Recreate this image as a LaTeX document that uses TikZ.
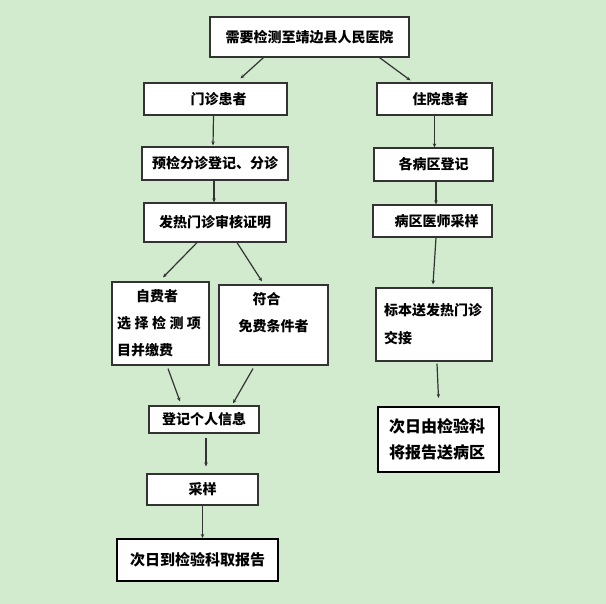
\documentclass[tikz,border=0pt]{standalone}
\usepackage{fontspec}
\setmainfont{Noto Sans CJK SC}
\usetikzlibrary{arrows.meta}
\definecolor{bgreen}{HTML}{D2EBCF}
\definecolor{lgray}{HTML}{333333}
\newcommand{\gapch}{\hspace{3.5pt}}
\begin{document}
\begin{tikzpicture}[x=1pt, y=-1pt,
    box/.style = {draw=lgray, line width=1.2pt, fill=white, inner sep=0pt, font=\fontsize{14}{27}\selectfont\bfseries},
    thickbox/.style = {box, draw=black, line width=2pt},
    arr/.style = {draw=lgray, line width=1.2pt, -{Stealth[length=4pt, width=3.5pt]}}]
    \fill[bgreen] (0,0) rectangle (606,604);
    \useasboundingbox (0,0) rectangle (606,604);
    \node[box, minimum width=199pt, minimum height=40pt] (top) at (309.5, 37) {需要检测至靖边县人民医院}; % top
    \node[box, minimum width=143pt, minimum height=32pt] (mz) at (215.5, 99) {\hspace{6pt}门诊患者}; % left, row 1
    \node[box, minimum width=115pt, minimum height=32pt] (zy) at (434.5, 99) {\hspace{12pt}住院患者}; % right, row 1
    \node[box, minimum width=146pt, minimum height=33pt] (yj) at (215, 163.5) {预检分诊登记、分诊}; % left, row 2
    \node[box, minimum width=119pt, minimum height=33pt] (bq) at (433.5, 164.5) {各病区登记}; % right, row 2
    \node[box, minimum width=142pt, minimum height=39pt] (fr) at (215, 222.5) {发热门诊审核证明\hspace{14pt}}; % left, row 3
    \node[box, minimum width=119pt, minimum height=32pt] (ys) at (432.5, 221) {\hspace{8pt}病区医师采样}; % right, row 3
    \node[box, minimum width=97pt, minimum height=83pt, text width=87pt, align=left] (zf) at (160.5, 323.5)
      {\hspace{19pt}自费者\\选\gapch 择\gapch 检\gapch 测\gapch 项\\目并缴费}; % left, left
    \node[box, minimum width=109pt, minimum height=80pt, align=center] (fh) at (273.5, 325)
      {\hspace{-14pt}符合\\免费条件者\\\mbox{}}; % left, right
    \node[box, minimum width=116pt, minimum height=73pt, text width=100pt, align=left,
      font=\fontsize{14}{28}\selectfont\bfseries] (bb) at (434, 324.5) {标本送发热门诊\\交接}; % right, row 4
    \node[box, minimum width=110pt, minimum height=27pt] (dj) at (204, 419.5) {登记个人信息\hspace{10pt}}; % left, row 5
    \node[box, minimum width=111pt, minimum height=31pt] (cy) at (202.5, 489.5) {采样\hspace{10pt}}; % left, row 6
    \node[thickbox, minimum width=161pt, minimum height=42pt, font=\fontsize{15}{18}\selectfont\bfseries] (qbg) at (197.5, 560)
      {次日到检验科取报告}; % left, bottom
    \node[thickbox, minimum width=121pt, minimum height=65pt, text width=99pt, align=left,
      font=\fontsize{16}{26}\selectfont\bfseries] (sbg) at (438.5, 439.5) {次日由检验科\\将报告送病区}; % right, bottom
    \draw[arr] ([xshift=-46pt]top.south) -- ([xshift=25pt, yshift=4pt]mz.north);
    \draw[arr] ([xshift=70pt]top.south) -- ([xshift=-24pt, yshift=2pt]zy.north);
    \draw[arr] ([xshift=-2pt]mz.south) -- ([xshift=-2pt, yshift=1pt]yj.north);
    \draw[arr] (zy.south) -- (zy.south |- bq.north);
    \draw[arr] ([xshift=-1pt]yj.south) -- ([xshift=-1pt]yj.south |- fr.north);
    \draw[arr] ([xshift=2.5pt]bq.south) -- ([xshift=2.5pt]bq.south |- ys.north);
    \draw[arr] ([xshift=-18pt]fr.south) -- ([xshift=2.5pt, yshift=4pt]zf.north);
    \draw[arr] ([xshift=22pt]fr.south) -- ([xshift=-11.5pt, yshift=3pt]fh.north);
    \draw[arr] ([xshift=3.5pt]ys.south) -- ([xshift=-1pt, yshift=3pt]bb.north);
    \draw[arr] ([xshift=7.5pt, yshift=-3pt]zf.south) -- ([xshift=-24pt, yshift=4pt]dj.north);
    \draw[arr] ([xshift=-20.5pt, yshift=-3pt]fh.south) -- ([xshift=29pt, yshift=2pt]dj.north);
    \draw[arr] ([xshift=2pt, yshift=-4pt]dj.south) -- ([xshift=3.5pt, yshift=7pt]cy.north);
    \draw[arr] (cy.south) -- (cy.south |- qbg.north);
    \draw[arr] ([xshift=3pt, yshift=-2pt]bb.south) -- ([yshift=8pt]sbg.north);
\end{tikzpicture}
\end{document}
